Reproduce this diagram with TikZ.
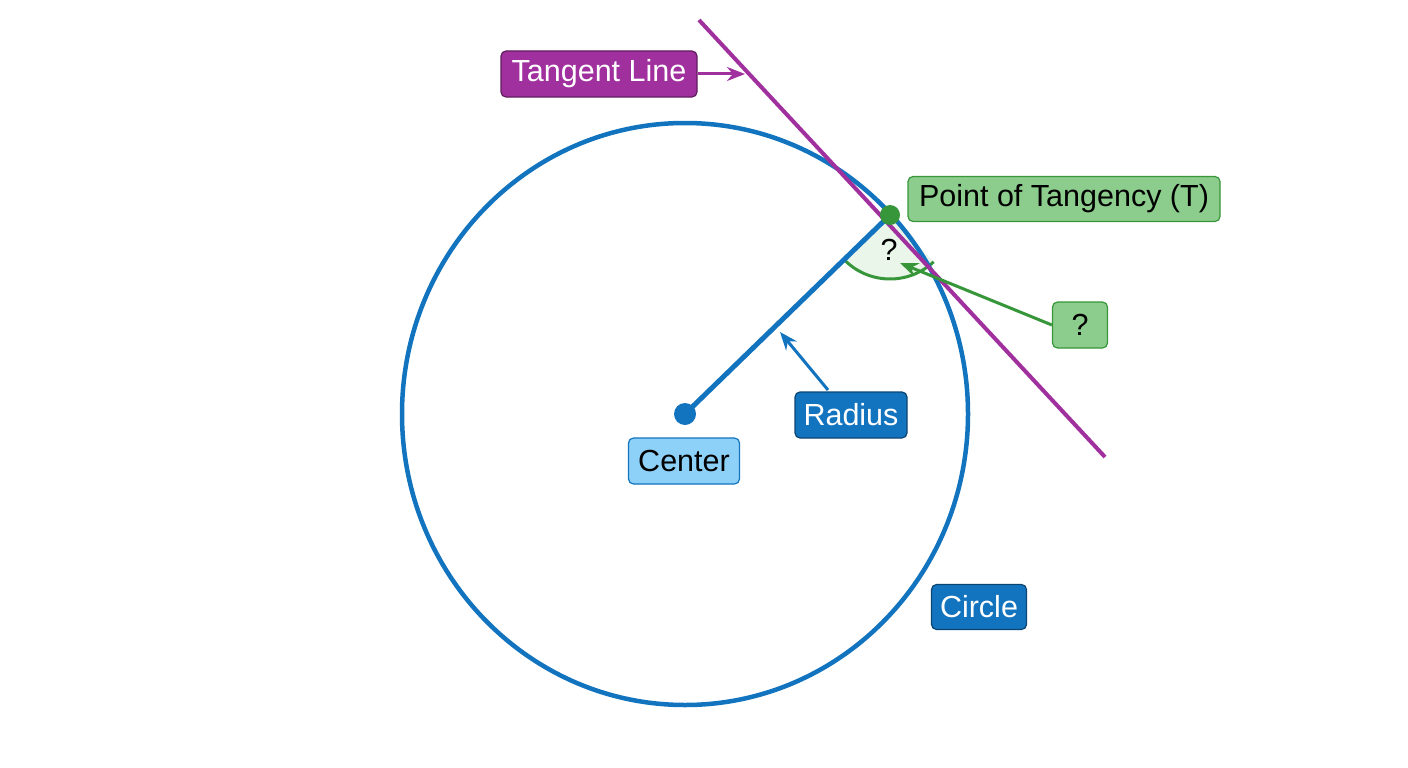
\documentclass[tikz,border=0pt]{standalone}
\usepackage{fontspec}
\setmainfont{Liberation Sans}
\usetikzlibrary{arrows.meta}
\definecolor{cblue}{HTML}{1273BE}
\definecolor{lblue}{HTML}{8DD0F8}
\definecolor{purp}{HTML}{A0309E}
\definecolor{gr}{HTML}{369639}
\definecolor{lgr}{HTML}{8CCC8C}
\definecolor{vlgr}{HTML}{EAF6EA}
\begin{document}
\begin{tikzpicture}[x=1pt,y=-1pt,
  lab/.style={draw,rounded corners=5pt,line width=1.2pt,inner sep=0pt,font=\fontsize{30.5}{34}\selectfont},
  arr/.style={-{Stealth[length=18pt,width=14pt]},line width=3pt}]
\useasboundingbox (0,0) rectangle (1408,768);
\coordinate (C) at (685,414);
\coordinate (T) at (890,215);
\coordinate (L1) at (699,20);
\coordinate (L2) at (1105,457);
\fill[vlgr] (T) -- ++(-224:64) arc[start angle=-224,end angle=-313,radius=64] -- cycle;
\draw[gr,line width=3pt] (T) ++(-224:64) arc[start angle=-224,end angle=-313,radius=64];
\draw[cblue,line width=4.5pt] (C) ellipse[x radius=283,y radius=291];
\draw[cblue,line width=5pt] (C) -- (T);
\draw[purp,line width=4pt] (L1) -- (L2);
\fill[cblue] (C) circle[radius=11];
\fill[gr] (T) circle[radius=10];
\node[font=\fontsize{30.5}{34}\selectfont] (q1) at (889,250) {?};
\node[lab,fill=purp,draw=purp!60!black,text=white,minimum width=196pt,minimum height=46pt] (tl) at (599,74) {Tangent Line};
\coordinate (ta) at (745,74);
\draw[arr,purp] (tl.east) -- (ta);
\node[lab,fill=lgr,draw=gr,minimum width=312pt,minimum height=45pt] (pt) at (1064,199) {Point of Tangency (T)};
\node[lab,fill=lgr,draw=gr,minimum width=55pt,minimum height=46pt] (q2) at (1080,325) {?};
\coordinate (qa) at (900,263);
\draw[arr,gr] (q2.west) -- (qa);
\node[lab,fill=cblue,draw=cblue!60!black,text=white,minimum width=112pt,minimum height=46pt] (rad) at (851,415) {Radius};
\coordinate (ra) at (780,332);
\draw[arr,cblue] (828,390) -- (ra);
\node[lab,fill=lblue,draw=cblue,minimum width=111pt,minimum height=46pt] (cen) at (684,461) {Center};
\node[lab,fill=cblue,draw=cblue!60!black,text=white,minimum width=95pt,minimum height=45pt] (cir) at (979,607) {Circle};
\end{tikzpicture}
\end{document}
